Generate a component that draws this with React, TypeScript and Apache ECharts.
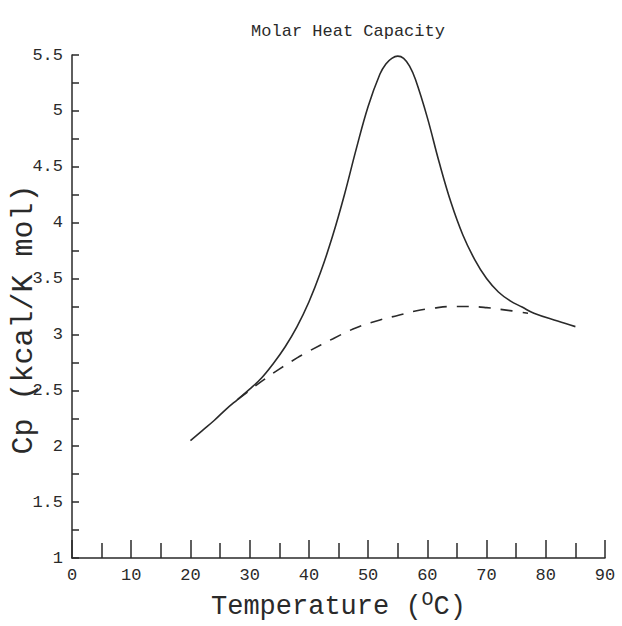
import React, { useEffect, useRef } from "react";
import * as echarts from "echarts";

const solidX = [20, 22, 24, 26, 28, 30, 32, 34, 36, 38, 40, 42, 44, 46, 48, 50, 52, 53, 54, 55, 56, 57, 58, 60, 62, 64, 66, 68, 70, 72, 74, 76, 78, 82, 85];
const solidY = [2.05, 2.14, 2.23, 2.33, 2.42, 2.51, 2.61, 2.74, 2.89, 3.07, 3.29, 3.56, 3.88, 4.25, 4.66, 5.04, 5.33, 5.42, 5.47, 5.49, 5.47, 5.4, 5.28, 4.94, 4.54, 4.18, 3.89, 3.67, 3.5, 3.38, 3.3, 3.245, 3.19, 3.12, 3.07];

const dashX = [28, 30, 32, 35, 38, 40, 44, 48, 52, 55, 58, 61, 64, 67, 70, 73, 77];
const dashY = [2.42, 2.5, 2.58, 2.69, 2.79, 2.85, 2.96, 3.06, 3.13, 3.17, 3.21, 3.235, 3.25, 3.25, 3.24, 3.22, 3.19];

const title = "Molar Heat Capacity";
const xName = "Temperature ({sup|O}C)";
const yName = "Cp (kcal/K mol)";

const ink = "#2a2a2a";
const mono = "Liberation Mono";

export default function App() {
  const ref = useRef<HTMLDivElement>(null);
  useEffect(() => {
    if (!ref.current) return;
    const chart = echarts.init(ref.current, null, { renderer: "svg" });
    chart.setOption({
      animation: false,
      backgroundColor: "#ffffff",
      title: {
        text: title,
        left: 343,
        textAlign: "center",
        top: 18,
        textStyle: { fontFamily: mono, fontSize: 17, fontWeight: "normal", color: ink },
      },
      grid: { left: 72, top: 55, right: 17, bottom: 68, containLabel: false, outerBoundsMode: "none" },
      xAxis: {
        type: "value",
        min: 0,
        max: 90,
        interval: 10,
        name: xName,
        nameLocation: "middle",
        nameGap: 31,
        nameMoveOverlap: false,
        nameTextStyle: {
          fontFamily: mono,
          fontSize: 27,
          color: ink,
          rich: {
            sup: { fontFamily: mono, fontSize: 20, color: ink, padding: [0, 0, 16, 0] },
          },
        },
        axisLine: { show: true, onZero: false, lineStyle: { color: ink, width: 1.5 } },
        axisTick: { show: true, inside: true, length: 18, lineStyle: { color: ink, width: 1.5 } },
        minorTick: { show: true, splitNumber: 2, length: 15, lineStyle: { color: ink, width: 1.5 } },
        axisLabel: { fontFamily: mono, fontSize: 17, color: ink, margin: 9 },
        splitLine: { show: false },
        minorSplitLine: { show: false },
      },
      yAxis: {
        type: "value",
        min: 1,
        max: 5.5,
        interval: 0.5,
        name: yName,
        nameLocation: "middle",
        nameGap: 33,
        nameRotate: 90,
        nameMoveOverlap: false,
        nameTextStyle: { fontFamily: mono, fontSize: 30, color: ink, padding: [0, 26, 0, 0] },
        axisLine: { show: true, onZero: false, lineStyle: { color: ink, width: 1.5 } },
        axisTick: { show: true, inside: true, length: 7, lineStyle: { color: ink, width: 1.5 } },
        minorTick: { show: true, splitNumber: 2, length: 7, lineStyle: { color: ink, width: 1.5 } },
        axisLabel: { fontFamily: mono, fontSize: 17, color: ink, margin: 9 },
        splitLine: { show: false },
        minorSplitLine: { show: false },
      },
      series: [
        {
          type: "line",
          data: solidX.map((x, i) => [x, solidY[i]]),
          smooth: 0.4,
          showSymbol: false,
          lineStyle: { color: ink, width: 1.6 },
        },
        {
          type: "line",
          data: dashX.map((x, i) => [x, dashY[i]]),
          smooth: 0.4,
          showSymbol: false,
          lineStyle: { color: ink, width: 1.6, type: [12, 10] },
        },
      ],
    });
    return () => chart.dispose();
  }, []);
  return (
    <div
      ref={ref}
      style={{ position: "absolute", left: 0, top: 0, width: 622, height: 626, background: "#fff" }}
    />
  );
}
